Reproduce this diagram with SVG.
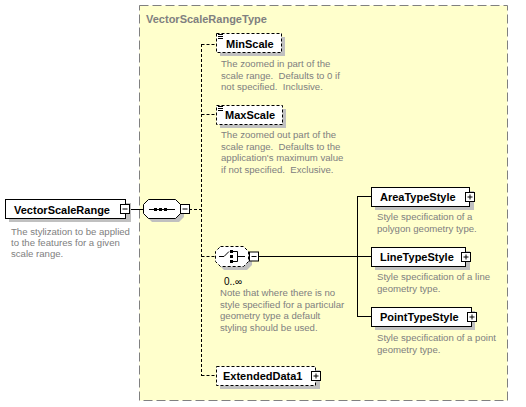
<svg xmlns="http://www.w3.org/2000/svg" width="526" height="407" viewBox="0 0 526 407">
<defs>
<style>
.bg{fill:#ffffff}
.type{fill:#FFFFCC;stroke:#808080;stroke-width:1;stroke-dasharray:9,4}
.title{font-family:"Liberation Sans",Arial,sans-serif;font-size:11px;font-weight:bold;fill:#808080}
.box{fill:#ffffff;stroke:#000000;stroke-width:1}
.opt{stroke-dasharray:3,2}
.shadow{fill:#C0C0C0}
.lbl{font-family:"Liberation Sans",Arial,sans-serif;font-size:11px;font-weight:bold;fill:#000000}
.doc{font-family:"Liberation Sans",Arial,sans-serif;font-size:9.6px;fill:#808080;white-space:pre}
.occ{font-family:"Liberation Sans",Arial,sans-serif;font-size:10px;fill:#000000}
.ln{stroke:#000000;stroke-width:1;fill:none}
.dl{stroke:#000000;stroke-width:1;fill:none;stroke-dasharray:3,2}
.pm{fill:#ffffff;stroke:#000000;stroke-width:1}
</style>
<g id="minus">
<rect class="pm" x="0" y="0" width="9" height="9"/>
<line class="ln" x1="2" y1="4.5" x2="7" y2="4.5"/>
</g>
<g id="plus">
<rect class="pm" x="0" y="0" width="9" height="9"/>
<line class="ln" x1="2" y1="4.5" x2="7" y2="4.5"/>
<line class="ln" x1="4.5" y1="2" x2="4.5" y2="7"/>
</g>
</defs>
<rect class="bg" x="0" y="0" width="526" height="407"/>
<g id="VectorScaleRangeType">
<rect class="type" x="139.5" y="5.5" width="368" height="395"/>
<text class="title" x="146" y="23">VectorScaleRangeType</text>
</g>
<g id="connectors">
<line class="ln" x1="130" y1="209.5" x2="143" y2="209.5"/>
<polyline class="dl" points="189,209.5 201.5,209.5"/>
<line class="dl" x1="201.5" y1="44" x2="201.5" y2="376"/>
<line class="dl" x1="201.5" y1="44.5" x2="216" y2="44.5"/>
<line class="dl" x1="201.5" y1="114.5" x2="216" y2="114.5"/>
<line class="dl" x1="201.5" y1="256.5" x2="215" y2="256.5"/>
<line class="dl" x1="201.5" y1="375.5" x2="216" y2="375.5"/>
<line class="ln" x1="258" y1="256.5" x2="357.5" y2="256.5"/>
<line class="ln" x1="357.5" y1="196" x2="357.5" y2="317"/>
<line class="ln" x1="357.5" y1="196.5" x2="371" y2="196.5"/>
<line class="ln" x1="357.5" y1="256.5" x2="371" y2="256.5"/>
<line class="ln" x1="357.5" y1="316.5" x2="371" y2="316.5"/>
</g>
<g id="VectorScaleRange">
<rect class="shadow" x="9" y="203" width="122" height="19"/>
<rect class="box" x="5.5" y="199.5" width="120" height="19"/>
<text class="lbl" x="14" y="213.5">VectorScaleRange</text>
<use href="#minus" x="120.5" y="204.5"/>
<text class="doc" x="11" y="235">The stylization to be applied</text>
<text class="doc" x="11" y="246">to the features for a given</text>
<text class="doc" x="11" y="257">scale range.</text>
</g>
<g id="sequence">
<polygon class="shadow" points="152,203 179,203 184,208 184,217 179,222 152,222 147,217 147,208"/>
<polygon class="box" points="148.5,199.5 175.5,199.5 180.5,204.5 180.5,213.5 175.5,218.5 148.5,218.5 143.5,213.5 143.5,204.5"/>
<line class="ln" x1="149" y1="209.5" x2="175" y2="209.5"/>
<rect x="154" y="208" width="3" height="3" fill="#000"/>
<rect x="159" y="208" width="3" height="3" fill="#000"/>
<rect x="164" y="208" width="3" height="3" fill="#000"/>
<use href="#minus" x="180.5" y="204.5"/>
</g>
<g id="MinScale">
<rect class="shadow" x="220" y="37" width="65" height="19"/>
<rect class="box opt" x="216.5" y="33.5" width="65" height="19"/>
<line class="ln" x1="218" y1="34.5" x2="223" y2="34.5"/>
<line class="ln" x1="218" y1="36.5" x2="223" y2="36.5"/>
<line class="ln" x1="218" y1="38.5" x2="223" y2="38.5"/>
<text class="lbl" x="226" y="48">MinScale</text>
<text class="doc" x="221" y="67" xml:space="preserve">The zoomed in part of the</text>
<text class="doc" x="221" y="79" xml:space="preserve">scale range.  Defaults to 0 if</text>
<text class="doc" x="221" y="90" xml:space="preserve">not specified.  Inclusive.</text>
</g>
<g id="MaxScale">
<rect class="shadow" x="220" y="109" width="66" height="19"/>
<rect class="box opt" x="216.5" y="105.5" width="66" height="19"/>
<line class="ln" x1="218" y1="106.5" x2="223" y2="106.5"/>
<line class="ln" x1="218" y1="108.5" x2="223" y2="108.5"/>
<line class="ln" x1="218" y1="110.5" x2="223" y2="110.5"/>
<text class="lbl" x="225" y="119">MaxScale</text>
<text class="doc" x="221" y="138" xml:space="preserve">The zoomed out part of the</text>
<text class="doc" x="221" y="149.5" xml:space="preserve">scale range.  Defaults to the</text>
<text class="doc" x="221" y="161" xml:space="preserve">application's maximum value</text>
<text class="doc" x="221" y="172.5" xml:space="preserve">if not specified.  Exclusive.</text>
</g>
<g id="choice">
<polygon class="shadow" points="224,250 247,250 252,255 252,265 247,270 224,270 219,265 219,255"/>
<polygon class="box opt" points="220.5,246.5 243.5,246.5 248.5,251.5 248.5,261.5 243.5,266.5 220.5,266.5 215.5,261.5 215.5,251.5"/>
<line class="ln" x1="219" y1="256.5" x2="224" y2="256.5"/>
<line class="ln" x1="224" y1="256.5" x2="229" y2="251.5"/>
<rect x="230" y="250" width="3" height="3" fill="#000"/>
<rect x="230" y="255" width="3" height="3" fill="#000"/>
<rect x="230" y="260" width="3" height="3" fill="#000"/>
<polyline class="ln" points="233,251.5 237.5,251.5 237.5,261.5 233,261.5"/>
<line class="ln" x1="237.5" y1="256.5" x2="245" y2="256.5"/>
<use href="#minus" x="249.5" y="252"/>
<text class="occ" x="224" y="285">0..∞</text>
<text class="doc" x="220" y="296">Note that where there is no</text>
<text class="doc" x="220" y="307.5">style specified for a particular</text>
<text class="doc" x="220" y="319">geometry type a default</text>
<text class="doc" x="220" y="330.5">styling should be used.</text>
</g>
<g id="AreaTypeStyle">
<rect class="shadow" x="375" y="191" width="99" height="19"/>
<rect class="box" x="371.5" y="187.5" width="98" height="19"/>
<text class="lbl" x="380" y="201">AreaTypeStyle</text>
<use href="#plus" x="465.5" y="192.5"/>
<text class="doc" x="377" y="220">Style specification of a</text>
<text class="doc" x="377" y="231.5">polygon geometry type.</text>
</g>
<g id="LineTypeStyle">
<rect class="shadow" x="375" y="251" width="95" height="19"/>
<rect class="box" x="371.5" y="247.5" width="94" height="19"/>
<text class="lbl" x="380" y="261">LineTypeStyle</text>
<use href="#plus" x="461.5" y="252.5"/>
<text class="doc" x="377" y="280">Style specification of a line</text>
<text class="doc" x="377" y="291.5">geometry type.</text>
</g>
<g id="PointTypeStyle">
<rect class="shadow" x="375" y="311" width="100" height="19"/>
<rect class="box" x="371.5" y="307.5" width="100" height="19"/>
<text class="lbl" x="380" y="321">PointTypeStyle</text>
<use href="#plus" x="467.5" y="312.5"/>
<text class="doc" x="377" y="341">Style specification of a point</text>
<text class="doc" x="377" y="352.5">geometry type.</text>
</g>
<g id="ExtendedData1">
<rect class="shadow" x="220" y="370" width="100" height="19"/>
<rect class="box opt" x="216.5" y="366.5" width="99" height="19"/>
<text class="lbl" x="223" y="380">ExtendedData1</text>
<use href="#plus" x="311.5" y="371.5"/>
</g>
</svg>
